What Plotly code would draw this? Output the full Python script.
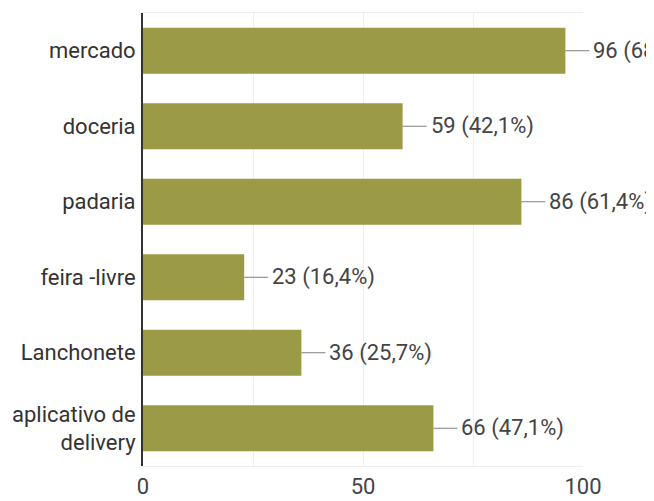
import plotly.graph_objects as go

categories = ["mercado", "doceria", "padaria", "feira -livre", "Lanchonete", "aplicativo de<br>delivery"]
counts = [96, 59, 86, 23, 36, 66]
percents = ["68,6%", "42,1%", "61,4%", "16,4%", "25,7%", "47,1%"]
x_ticks = [0, 50, 100]

BAR = "#9b9a47"
FONT = "Roboto"

fig = go.Figure()
fig.add_trace(go.Bar(
    y=categories, x=counts, orientation="h",
    marker=dict(color=BAR, line=dict(width=0)),
    hoverinfo="skip",
))

for c, v, p in zip(categories, counts, percents):
    fig.add_annotation(
        x=v, y=c, xref="x", yref="y",
        text=f"{v} ({p})",
        showarrow=True, ax=24, ay=0, arrowhead=0, arrowwidth=1.2,
        arrowcolor="#808080", standoff=0, startstandoff=0,
        xanchor="left", borderpad=3,
        font=dict(family=FONT, size=22, color="#444444"),
    )

fig.update_layout(
    width=646, height=493,
    margin=dict(l=135, r=71, t=5, b=35, autoexpand=False),
    paper_bgcolor="white", plot_bgcolor="white",
    showlegend=False,
    bargap=0.39,
    font=dict(family=FONT, size=22, color="#333333"),
)
fig.update_xaxes(
    range=[0, 100], tickvals=x_ticks, ticktext=[str(t) for t in x_ticks],
    showgrid=True, gridcolor="#efefef", gridwidth=1,
    minor=dict(showgrid=True, gridcolor="#efefef", tickvals=[25, 75]),
    showline=True, linecolor="#efefef", mirror=True,
    zeroline=False, ticks="", ticklabelstandoff=1, automargin=False,
    tickfont=dict(family=FONT, size=22, color="#444444"),
)
fig.update_yaxes(
    autorange="reversed", automargin=False,
    showline=True, linecolor="#333333", linewidth=2,
    showgrid=False, ticks="", ticklabelstandoff=1,
    tickfont=dict(family=FONT, size=22, color="#333333"),
)

fig.write_html("out.html")
